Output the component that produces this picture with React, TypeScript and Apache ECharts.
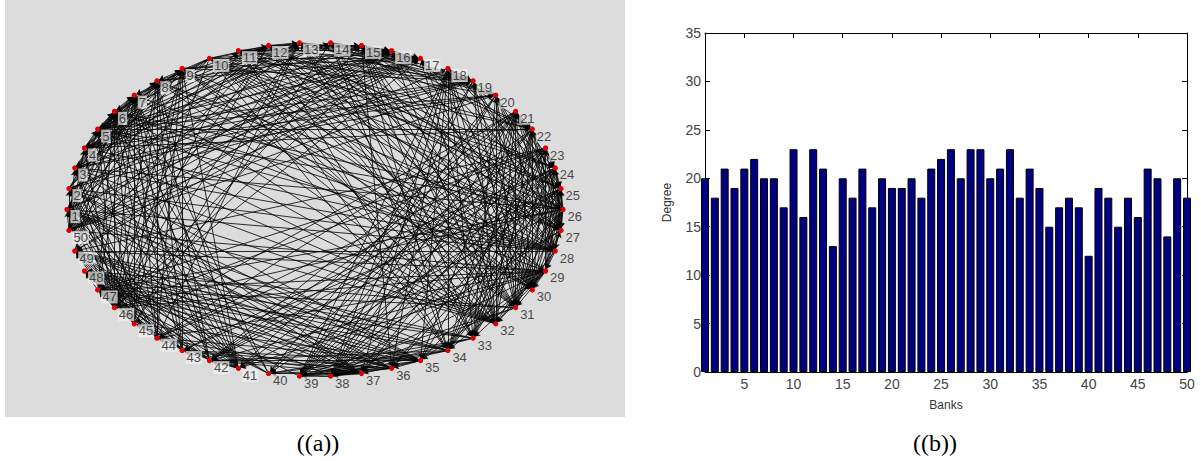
import { useEffect, useRef } from "react";
import * as echarts from "echarts";

// Banks (node ids) and their degree
const BANKS = [
  1, 2, 3, 4, 5, 6, 7, 8, 9, 10, 11, 12, 13, 14, 15, 16, 17, 18, 19, 20, 21, 22, 23, 24, 25,
  26, 27, 28, 29, 30, 31, 32, 33, 34, 35, 36, 37, 38, 39, 40, 41, 42, 43, 44, 45, 46, 47, 48, 49, 50,
];
const DEGREES = [
  20, 18, 21, 19, 21, 22, 20, 20, 17, 23, 16, 23, 21, 13, 20, 18, 21, 17, 20, 19, 19, 20, 18, 21, 22,
  23, 20, 23, 23, 20, 21, 23, 18, 21, 19, 15, 17, 18, 17, 12, 19, 18, 15, 18, 16, 21, 20, 14, 20, 18,
];
const X_TICKS = [5, 10, 15, 20, 25, 30, 35, 40, 45, 50];
const Y_MAX = 35;
const Y_STEP = 5;

// Edges realising the degree sequence above (Havel-Hakimi construction)
function buildLinks(deg: number[]) {
  const rem = deg.slice();
  const links: { source: number; target: number }[] = [];
  for (;;) {
    const order = rem
      .map((d, i) => i)
      .sort((a, b) => rem[b] - rem[a] || a - b);
    const v = order[0];
    const d = rem[v];
    if (d <= 0) break;
    rem[v] = 0;
    for (let k = 1; k <= d && k < order.length; k++) {
      const u = order[k];
      if (rem[u] <= 0) continue;
      rem[u] -= 1;
      links.push({ source: v, target: u });
    }
  }
  return links;
}

export default function App() {
  const ref = useRef<HTMLDivElement>(null);
  useEffect(() => {
    document.body.style.margin = "0";
    const chart = echarts.init(ref.current!, undefined, { renderer: "svg" });
    const n = BANKS.length;
    const nodes = BANKS.map((b, i) => {
      const a = Math.PI - (i * 2 * Math.PI) / n;
      return { name: String(b), value: [Math.cos(a), Math.sin(a)] };
    });
    // labels on the web get a light box; the others a box in the panel's grey
    const labelNodes = nodes.map((nd) => ({
      ...nd,
      label: {
        backgroundColor:
          nd.value[0] < -0.25 || nd.value[1] > 0.8 ? "rgba(240,240,240,0.9)" : "rgba(220,220,220,0.9)",
      },
    }));
    const links = buildLinks(DEGREES);
    const sans = "Liberation Sans";
    const hiddenAxis = {
      type: "value" as const,
      min: -1,
      max: 1,
      show: false,
    };
    const caption = (text: string, x: number) => ({
      type: "text",
      x,
      y: 443,
      style: {
        text,
        font: '24px "Liberation Serif"',
        fill: "#000",
        textAlign: "center",
        textVerticalAlign: "middle",
      },
    });
    chart.setOption({
      animation: false,
      backgroundColor: "#ffffff",
      graphic: [
        {
          type: "rect",
          z: -10,
          shape: { x: 5, y: 0, width: 620, height: 417 },
          style: { fill: "#dcdcdc" },
          silent: true,
        },
        caption("((a))", 318),
        caption("((b))", 935),
      ],
      grid: [
        { left: 67, top: 42.5, width: 496, height: 334, show: false },
        { left: 705, top: 33, width: 482, height: 339, show: false },
      ],
      xAxis: [
        { ...hiddenAxis, gridIndex: 0 },
        {
          type: "value",
          gridIndex: 1,
          min: 1,
          max: 50,
          position: "bottom",
          name: "Banks",
          nameLocation: "middle",
          nameGap: 27,
          nameTextStyle: { fontFamily: sans, fontSize: 12, color: "#333" },
          axisLine: { show: true, onZero: false, lineStyle: { color: "#000", width: 1 } },
          axisTick: { show: true, inside: true, length: 5, customValues: X_TICKS, lineStyle: { color: "#000" } },
          axisLabel: { customValues: X_TICKS, fontFamily: sans, fontSize: 14, color: "#444", margin: 5 },
          splitLine: { show: false },
        },
        {
          type: "value",
          gridIndex: 1,
          min: 1,
          max: 50,
          position: "top",
          axisLine: { show: true, onZero: false, lineStyle: { color: "#000", width: 1 } },
          axisTick: { show: true, inside: true, length: 5, customValues: X_TICKS, lineStyle: { color: "#000" } },
          axisLabel: { show: false },
          splitLine: { show: false },
        },
      ],
      yAxis: [
        { ...hiddenAxis, gridIndex: 0 },
        {
          type: "value",
          gridIndex: 1,
          min: 0,
          max: Y_MAX,
          interval: Y_STEP,
          position: "left",
          name: "Degree",
          nameLocation: "middle",
          nameGap: 32,
          nameTextStyle: { fontFamily: sans, fontSize: 12, color: "#333" },
          axisLine: { show: true, onZero: false, lineStyle: { color: "#000", width: 1 } },
          axisTick: { show: true, inside: true, length: 5, lineStyle: { color: "#000" } },
          axisLabel: { fontFamily: sans, fontSize: 14, color: "#444", margin: 4 },
          splitLine: { show: false },
        },
        {
          type: "value",
          gridIndex: 1,
          min: 0,
          max: Y_MAX,
          interval: Y_STEP,
          position: "right",
          axisLine: { show: true, onZero: false, lineStyle: { color: "#000", width: 1 } },
          axisTick: { show: true, inside: true, length: 5, lineStyle: { color: "#000" } },
          axisLabel: { show: false },
          splitLine: { show: false },
        },
      ],
      series: [
        {
          type: "graph",
          coordinateSystem: "cartesian2d",
          xAxisIndex: 0,
          yAxisIndex: 0,
          layout: "none",
          roam: false,
          symbol: "circle",
          symbolSize: 5,
          itemStyle: { color: "#e00000" },
          edgeSymbol: ["none", "arrow"],
          edgeSymbolSize: [0, 5],
          label: { show: false },
          lineStyle: { color: "#000", width: 0.85, opacity: 0.95, curveness: 0 },
          emphasis: { disabled: true },
          data: nodes,
          links,
          z: 3,
        },
        {
          type: "scatter",
          xAxisIndex: 0,
          yAxisIndex: 0,
          symbol: "circle",
          symbolSize: 5,
          itemStyle: { color: "#e00000" },
          z: 6,
          silent: true,
          label: {
            show: true,
            position: "right",
            distance: 1,
            offset: [0, 7],
            formatter: "{b}",
            fontFamily: sans,
            fontSize: 13,
            color: "#1a1a1a",
            padding: [0, 1, 0, 1],
          },
          data: labelNodes,
        },
        {
          type: "bar",
          xAxisIndex: 1,
          yAxisIndex: 1,
          barWidth: 8,
          clip: true,
          itemStyle: { color: "#000080", borderColor: "#000", borderWidth: 1 },
          data: BANKS.map((b, i) => [b, DEGREES[i]]),
        },
      ],
    });
    return () => chart.dispose();
  }, []);
  return <div ref={ref} style={{ width: 1201, height: 461 }} />;
}
